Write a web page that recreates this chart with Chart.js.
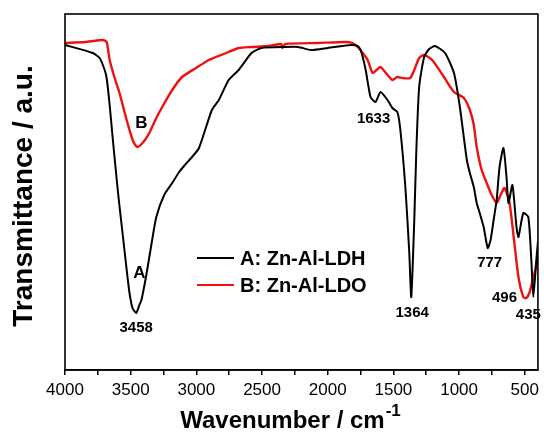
<!DOCTYPE html>
<html>
<head>
<meta charset="utf-8">
<script src="https://cdn.jsdelivr.net/npm/chart.js@4.4.1/dist/chart.umd.min.js"></script>
<style>
html,body{margin:0;padding:0;background:#fff;}
#wrap{width:544px;height:432px;position:relative;}
</style>
</head>
<body>
<div id="wrap"><canvas id="c" width="544" height="432"></canvas></div>
<script>
// Series A: Zn-Al-LDH (black)
const wavenumA = [4000,3789,3736,3698,3683,3660,3637,3615,3592,3562,3532,3509,3486,3458,3434,3418,3381,3343,3305,3245,3184,3131,3094,3033,2980,2882,2829,2754,2678,2580,2505,2323,2225,2127,1999,1825,1772,1749,1711,1674,1636,1598,1545,1508,1470,1447,1409,1379,1364,1341,1326,1304,1266,1228,1183,1107,1039,994,941,918,888,866,843,813,782,760,737,714,692,662,639,624,594,563,548,511,473,450,435,412,400];
const transA   = [325,317,312,300,292,265,232,202,172,137,102,77,62,57,65,70,95,125,153,175,187,198,204,213,222,260,270,290,300,317,322,323,323,320,322,325,324,320,300,273,268,278,270,262,258,240,183,117,73,150,217,283,313,321,324,317,297,263,210,197,183,167,157,143,122,130,150,170,203,222,193,167,185,143,133,157,153,110,73,110,128];
// Series B: Zn-Al-LDO (red)
const wavenumB = [4000,3849,3713,3683,3660,3622,3585,3547,3509,3479,3449,3403,3358,3305,3260,3184,3109,3003,2905,2792,2678,2580,2452,2353,2346,2323,2074,1870,1810,1772,1734,1696,1659,1628,1598,1545,1508,1470,1432,1372,1341,1304,1266,1205,1115,1039,964,918,888,866,828,790,752,714,684,654,616,579,548,511,488,465,443,420,400];
const transB   = [327,328,330,328,310,292,277,258,240,228,223,228,237,252,263,280,293,302,310,316,322,323,324,326,322,326,327,328,327,323,317,310,297,300,303,295,290,293,292,292,300,312,315,310,293,278,272,260,245,223,200,187,175,167,175,182,167,127,93,73,72,77,88,100,115];
// Axis ticks (wavenumber, cm-1)
const xTicks = [4000,3500,3000,2500,2000,1500,1000,500];
const xMinorTicks = [3750,3250,2750,2250,1750,1250,750];
// Peak annotations: text, wavenumber, value
const annTexts = ['3458','1633','1364','777','496','435','B','A'];
const annX     = [3458,1651,1357,767,654,473,3418,3434];
const annY     = [42,251,57,107,72,55,247,97];
const legendLabels = ['A: Zn-Al-LDH','B: Zn-Al-LDO'];
const seriesColors = ['#000000','#ee1111'];

const FONT = '"Liberation Sans", Arial, Helvetica, sans-serif';

const pts = (xs, ys) => xs.map((x,i)=>({x:x, y:ys[i]}));

const overlay = {
  id:'overlay',
  afterDraw(chart){
    const ctx = chart.ctx, a = chart.chartArea;
    const xs = chart.scales.x, ys = chart.scales.y;
    ctx.save();
    // frame
    ctx.strokeStyle = '#000'; ctx.lineWidth = 1.6;
    ctx.strokeRect(a.left, a.top, a.right - a.left, a.bottom - a.top);
    // annotations
    ctx.fillStyle = '#000';
    ctx.textAlign = 'center'; ctx.textBaseline = 'middle';
    annTexts.forEach((t,i)=>{
      ctx.font = (t.length === 1 ? 'bold 17px ' : 'bold 15px ') + FONT;
      ctx.fillText(t, xs.getPixelForValue(annX[i]), ys.getPixelForValue(annY[i]));
    });
    // legend
    const lx0 = 197, lx1 = 234, ly = [258, 285];
    legendLabels.forEach((t,i)=>{
      ctx.strokeStyle = seriesColors[i]; ctx.lineWidth = 2.2;
      ctx.beginPath(); ctx.moveTo(lx0, ly[i]); ctx.lineTo(lx1, ly[i]); ctx.stroke();
      ctx.fillStyle = '#000';
      ctx.font = 'bold 20px ' + FONT;
      ctx.textAlign = 'left';
      ctx.fillText(t, 240, ly[i] + 1);
    });
    // x title
    ctx.font = 'bold 24px ' + FONT;
    ctx.textAlign = 'left'; ctx.textBaseline = 'alphabetic';
    const main = 'Wavenumber / cm';
    const w1 = ctx.measureText(main).width;
    ctx.font = 'bold 17px ' + FONT;
    const w2 = ctx.measureText('-1').width;
    const x0 = 290 - (w1 + w2)/2;
    ctx.font = 'bold 24px ' + FONT;
    ctx.fillText(main, x0, 428);
    ctx.font = 'bold 17px ' + FONT;
    ctx.fillText('-1', x0 + w1 + 1, 416);
    // y title
    ctx.translate(24, 196);
    ctx.rotate(-Math.PI/2);
    ctx.font = 'bold 28px ' + FONT;
    ctx.textAlign = 'center'; ctx.textBaseline = 'middle';
    ctx.fillText('Transmittance / a.u.', 0, 0);
    ctx.restore();
  }
};

new Chart(document.getElementById('c'), {
  type:'line',
  data:{
    datasets:[
      {label:legendLabels[0], data:pts(wavenumA, transA), borderColor:seriesColors[0], borderWidth:2, pointRadius:0, tension:0.2, fill:false},
      {label:legendLabels[1], data:pts(wavenumB, transB), borderColor:seriesColors[1], borderWidth:2.4, pointRadius:0, tension:0.2, fill:false}
    ]
  },
  options:{
    responsive:false, animation:false,
    layout:{padding:{left:65, right:2, top:14, bottom:0}},
    plugins:{legend:{display:false}, tooltip:{enabled:false}},
    scales:{
      x:{
        type:'linear', reverse:true, min:400, max:4000,
        afterBuildTicks(s){ s.ticks = xTicks.concat(xMinorTicks).sort((p,q)=>q-p).map(v=>({value:v})); },
        afterFit(s){ s.height = 62; },
        ticks:{
          autoSkip:false, maxRotation:0, padding:5, color:'#000',
          font:{family:FONT, size:17},
          callback:(v)=> xTicks.includes(v) ? String(v) : ''
        },
        grid:{drawOnChartArea:false, drawTicks:true, tickLength:5, color:'#000', lineWidth:1.5},
        border:{display:true, color:'#000', width:1.6}
      },
      y:{display:false, min:0, max:356}
    }
  },
  plugins:[overlay]
});
</script>
</body>
</html>
